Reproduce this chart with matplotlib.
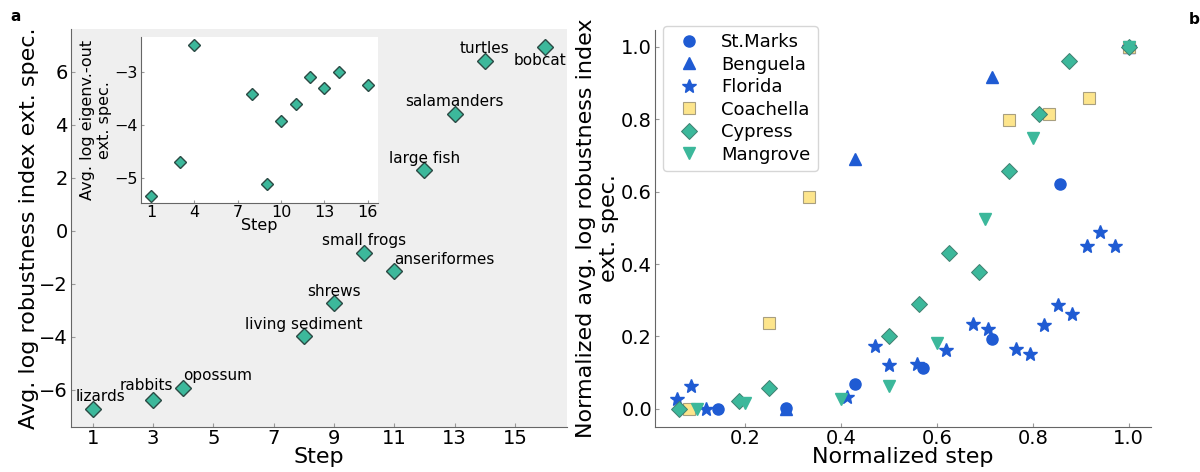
import numpy as np
import matplotlib
matplotlib.use("Agg")
from matplotlib import pyplot as plt

# panel a: Cypress extinction sequence
steps = [1, 3, 4, 8, 9, 10, 11, 12, 13, 14, 16]
robust = [-6.73, -6.40, -5.94, -3.99, -2.75, -0.84, -1.54, 2.28, 4.40, 6.42, 6.93]
species = ["lizards", "rabbits", "opossum", "living sediment", "shrews", "small frogs",
           "anseriformes", "large fish", "salamanders", "turtles", "bobcat"]
eigen = [-5.33, -4.69, -2.49, -3.41, -5.11, -3.93, -3.60, -3.09, -3.31, -3.00, -3.25]

# panel b: normalized curves per food web
stmarks_x = [0.143, 0.286, 0.429, 0.571, 0.714, 0.857, 1.0]
stmarks_y = [0.0, 0.003, 0.07, 0.113, 0.194, 0.620, 1.0]
benguela_x = [0.286, 0.429, 0.714, 1.0]
benguela_y = [0.0, 0.689, 0.915, 1.0]
florida_x = [0.059, 0.088, 0.118, 0.412, 0.471, 0.5, 0.559, 0.618, 0.676, 0.706,
             0.765, 0.794, 0.824, 0.853, 0.882, 0.912, 0.941, 0.971, 1.0]
florida_y = [0.028, 0.062, 0.0, 0.032, 0.173, 0.12, 0.124, 0.162, 0.235, 0.221,
             0.165, 0.152, 0.231, 0.286, 0.263, 0.451, 0.488, 0.450, 1.0]
coach_x = [0.083, 0.25, 0.333, 0.75, 0.833, 0.917, 1.0]
coach_y = [0.0, 0.237, 0.586, 0.798, 0.813, 0.859, 1.0]
cypress_x = [0.0625, 0.1875, 0.25, 0.5, 0.5625, 0.625, 0.6875, 0.75, 0.8125, 0.875, 1.0]
cypress_y = [0.0, 0.023, 0.058, 0.2, 0.29, 0.43, 0.378, 0.658, 0.813, 0.96, 1.0]
mangrove_x = [0.1, 0.2, 0.4, 0.5, 0.6, 0.7, 0.8, 1.0]
mangrove_y = [0.0, 0.017, 0.028, 0.064, 0.182, 0.524, 0.747, 1.0]

blue = "#1f5bd3"
teal = "#3cb89b"
yellow = "#fde58c"
spine_col = "#666666"

# label offsets (points) relative to marker
offsets = {"lizards": (5.4, 6), "rabbits": (-4.8, 7), "opossum": (24.8, 5.5),
           "anseriformes": (36, 5.5), "bobcat": (-3.5, -4.5)}

fig = plt.figure(figsize=(12, 4.72), dpi=100)


def style(a, tick_size, tick_len=3):
    for sp in ["top", "right"]:
        a.spines[sp].set_visible(False)
    for sp in ["left", "bottom"]:
        a.spines[sp].set_color(spine_col)
    a.tick_params(labelsize=tick_size, length=tick_len, direction="in",
                  color="#999999", pad=2)


ax = fig.add_axes([0.0588, 0.0960, 0.4137, 0.8420])
ax.set_facecolor("#efefef")
ax.plot(steps, robust, "D", color=teal, markeredgecolor="#2b4a44", markersize=8.4,
        markeredgewidth=1)
for s, x, y in zip(species, steps, robust):
    dx, dy = offsets.get(s, (0, 5.5))
    va = "top" if dy < 0 else "baseline"
    ax.annotate(s, (x, y), xytext=(dx, dy), textcoords="offset points",
                ha="center", va=va, fontsize=11)
ax.set_xlim(0.26, 16.73)
ax.set_ylim(-7.4, 7.6)
ax.set_xticks([1, 3, 5, 7, 9, 11, 13, 15])
ax.set_yticks([-6, -4, -2, 0, 2, 4, 6])
ax.set_xlabel("Step", fontsize=16)
ax.set_ylabel("Avg. log robustness index ext. spec.", fontsize=16)
ax.xaxis.set_label_coords(0.5, -0.052)
ax.yaxis.set_label_coords(-0.063, 0.5)
style(ax, 14)

ins = fig.add_axes([0.1173, 0.5706, 0.1975, 0.3517])
ins.set_facecolor("white")
ins.plot(steps, eigen, "D", color=teal, markeredgecolor="#2b4a44", markersize=6.3,
         markeredgewidth=1)
ins.set_xlim(0.29, 16.69)
ins.set_ylim(-5.46, -2.34)
ins.set_xticks([1, 4, 7, 10, 13, 16])
ins.set_yticks([-5, -4, -3])
ins.set_xlabel("Step", fontsize=11.5)
ins.set_ylabel("Avg. log eigenv.-out\next. spec.", fontsize=11.5)
ins.xaxis.set_label_coords(0.5, -0.09)
ins.yaxis.set_label_coords(-0.12, 0.5)
style(ins, 11.5, 2)

bx = fig.add_axes([0.5457, 0.0960, 0.4133, 0.8405])
bx.plot(stmarks_x, stmarks_y, "o", color=blue, markersize=8, label="St.Marks")
bx.plot(benguela_x, benguela_y, "^", color=blue, markersize=8.3, label="Benguela")
bx.plot(florida_x, florida_y, "*", color=blue, markersize=10.5, label="Florida")
bx.plot(coach_x, coach_y, "s", color=yellow, markeredgecolor="#a89f80", markersize=8.5,
        markeredgewidth=0.8, label="Coachella")
bx.plot(cypress_x, cypress_y, "D", color=teal, markeredgecolor="#3f7f6f", markersize=8.5,
        markeredgewidth=0.7, label="Cypress")
bx.plot(mangrove_x, mangrove_y, "v", color=teal, markersize=8.6, label="Mangrove")
bx.set_xlim(0.012, 1.046)
bx.set_ylim(-0.049, 1.046)
bx.set_xticks([0.2, 0.4, 0.6, 0.8, 1.0])
bx.set_yticks([0.0, 0.2, 0.4, 0.6, 0.8, 1.0])
bx.set_xlabel("Normalized step", fontsize=16)
bx.set_ylabel("Normalized avg. log robustness index\next. spec.", fontsize=16)
bx.xaxis.set_label_coords(0.5, -0.052)
bx.yaxis.set_label_coords(-0.072, 0.5)
style(bx, 14)
bx.legend(loc="upper left", fontsize=13, labelspacing=0.25, borderaxespad=0,
          bbox_to_anchor=(0.017, 1.01))

fig.text(0.009, 0.98, "a", fontsize=11, fontweight="bold", va="top")
fig.text(0.991, 0.975, "b", fontsize=11, fontweight="bold", va="top")

fig.savefig("out.png", dpi=100)
